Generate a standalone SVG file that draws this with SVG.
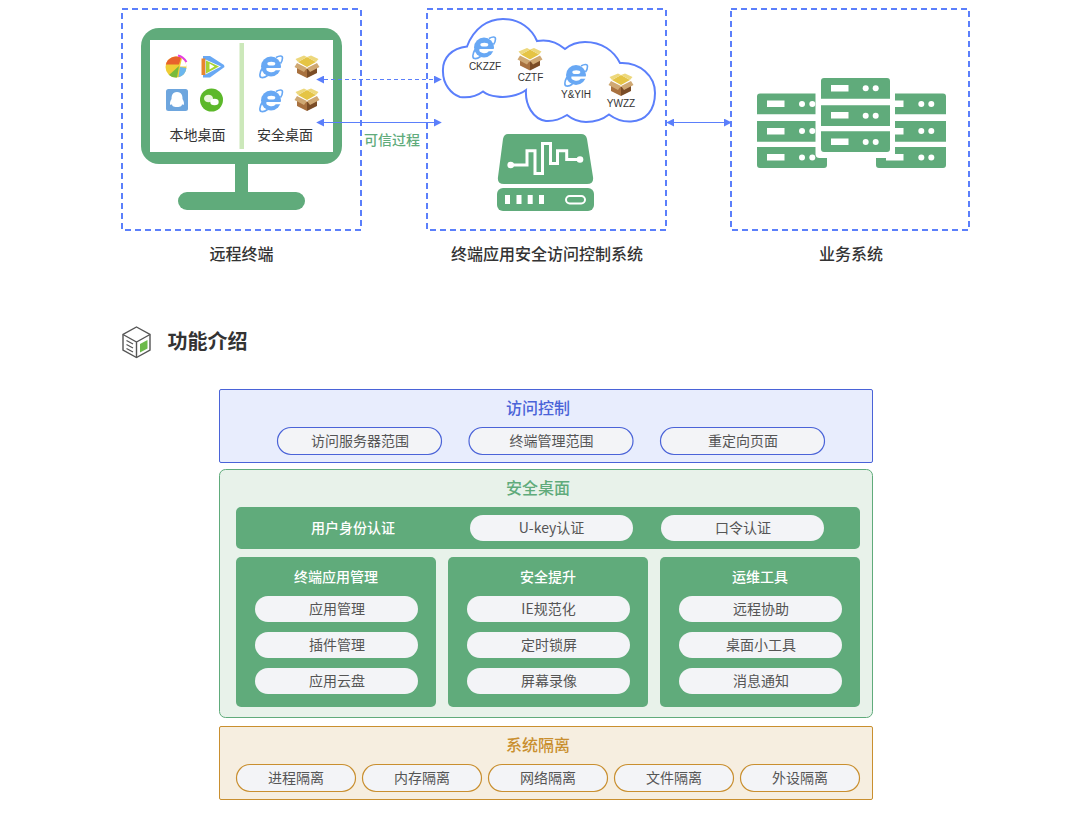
<svg xmlns="http://www.w3.org/2000/svg" xmlns:xlink="http://www.w3.org/1999/xlink" width="1088" height="816" viewBox="0 0 1088 816">
<style>
text{font-family:"Noto Sans CJK SC","Noto Sans",sans-serif;text-anchor:middle}
.dash{fill:none;stroke:#5b7ffb;stroke-width:2;stroke-dasharray:6 4}
.g{fill:#60ab7b}
.w{fill:#fff}
.cap{font-size:16px;font-weight:500;fill:#333}
.lab{font-size:14px;fill:#333}
.en{font-family:"Liberation Sans",Arial,sans-serif;font-size:10px;fill:#333}
.pill{font-size:14px;fill:#555}
.p{fill:#f3f4f7}
.pb{fill:#f3f4f7;stroke:#4a63d8;stroke-width:1.2}
.po{fill:#f3f4f7;stroke:#c98f2f;stroke-width:1.2}
.th{font-size:16px;font-weight:500}
.tw{font-size:14px;font-weight:500;fill:#fff}
.line{stroke:#5b7ffb;stroke-width:1.2;fill:none}
</style>
<defs>
<marker id="a" viewBox="0 0 10 10" refX="9" refY="5" markerWidth="8" markerHeight="8" markerUnits="userSpaceOnUse" orient="auto-start-reverse"><path d="M0 0L10 5L0 10z" fill="#5b7ffb"/></marker>
<g id="ie">
<path d="M5-9C8.500-11 11.500-11 11.500-8.500C11.500-7 11-5 9.500-3M-9 2C-11.500 6.500-12 10.500-9.500 11C-7.500 11.400-5.500 10.500-3.500 9" fill="none" stroke="#68a8f4" stroke-width="1.600"/>
<circle r="10" fill="#68a8f4"/>
<ellipse cx="0.300" cy="-2.800" rx="4" ry="1.900" fill="#fff"/>
<path d="M-4.500 1.500H11V3.800H4.800A5 3.300 0 0 1 -4.500 1.500z" fill="#fff"/>
</g>
<g id="box">
<path d="M-10-3L0 2V11L-10 6z" fill="#a8713f"/>
<path d="M10-3L0 2V11L10 6z" fill="#7a4c26"/>
<path d="M-9-5L0-10L9-5L0 0z" fill="#e5c445"/>
<path d="M-9-5L-11.500-8L-3-11.500L0-10zM9-5L11.500-8L4-11.500L0-10z" fill="#edd87c"/>
<path d="M-10-4L0 1L-3 5L-12.500 0zM10-4L0 1L3 5L12.500 0z" fill="#cfa873"/>
</g>
</defs>

<g id="terminal">
<rect class="dash" x="122" y="9" width="239" height="221"/>
<rect class="g" x="141" y="28" width="201" height="136" rx="18"/>
<rect class="w" x="150" y="40" width="183" height="112"/>
<rect x="239.500" y="43" width="4.500" height="106" fill="#cce8ba"/>
<rect class="g" x="235" y="163" width="13" height="30"/>
<rect class="g" x="178" y="192" width="127" height="18" rx="9"/>
<g id="app-ball">
<circle cx="176" cy="67" r="10.500" fill="#efcd35"/>
<path d="M179 64.500L165.800 64.500A10.500 10.500 0 0 1 181 57.800z" fill="#e8622c"/>
<path d="M179 66L169 75A10.500 10.500 0 0 0 177 77.500z" fill="#78bb3a"/>
<path d="M180 67L178.500 77.200A10.500 10.500 0 0 0 186.400 68z" fill="#6ab6ee"/>
<path d="M180 66.500L186.400 66.500A10.500 10.500 0 0 0 182 58.500z" fill="#fff"/>
<path d="M178 55.500Q183 56.500 186.500 62" stroke="#e43fe0" stroke-width="2" fill="none"/>
</g>
<g id="app-video">
<path d="M203 56H210L224 65L224.500 67L210 77.500H203z" fill="#68a8f4"/>
<path d="M201.500 58.500H205.500V75H201.500z" fill="#e8852c"/>
<path d="M205.500 59.500L221 66.500L205.500 74.500z" fill="#fff"/>
<path d="M206 60.500L219 66.500L206 73.500z" fill="#a5d433"/>
<path d="M209.500 63.500L214.500 66.500L209.500 69.500z" fill="#fff"/>
</g>
<g id="app-qq">
<rect x="166" y="89" width="22" height="22" rx="2.500" fill="#6ea6de"/>
<path d="M177 92C172 92 171.500 96 171.500 99C170 101 169.500 104 170.500 105C171.500 105 172 104 172 104C172 106 173 107 177 107C181 107 182 106 182 104C182 104 182.500 105 183.500 105C184.500 104 184 101 182.500 99C182.500 96 182 92 177 92z" fill="#fff"/>
</g>
<g id="app-wechat">
<circle cx="211.500" cy="100" r="11.500" fill="#5cb82a"/>
<ellipse cx="208.500" cy="98.500" rx="4.500" ry="3.800" fill="#e9f6dd"/>
<ellipse cx="214.500" cy="102" rx="4.200" ry="3.300" fill="#fff"/>
</g>
<use xlink:href="#ie" href="#ie" x="271" y="66.500"/>
<use xlink:href="#box" href="#box" x="307" y="67"/>
<use xlink:href="#ie" href="#ie" x="271" y="100.500"/>
<use xlink:href="#box" href="#box" x="307" y="100"/>
<text class="lab" x="197.500" y="140">本地桌面</text>
<text class="lab" x="285" y="140">安全桌面</text>
<text class="cap" x="241.500" y="260">远程终端</text>
</g>

<g id="access-system">
<rect class="dash" x="427" y="9" width="239" height="221"/>
<path d="M443 72C442 58 452 48 467 46.500C474 28 488 19 503 19C520 19 532 29 537 41C548 39 557 42 565 49C571 44 577 42 585 42C602 42 614 51 620 63C640 62 655 76 655 93C655 110 646 121 631 121.500C622 122 615 119 609 114.500C602 120 594 122 586 122C578 122 572 119 567 115C559 120 553 121.500 546 121C533 119 525 105 526 90C518 96 505 98 497 96.500C491 96 486 94 483 91.500C477 96 468 98 460 97C451 94 443 84 443 72z" fill="#fff" stroke="#5b7ffb" stroke-width="2"/>
<use xlink:href="#ie" href="#ie" x="484" y="47.500"/>
<use xlink:href="#box" href="#box" x="530" y="59.500"/>
<use xlink:href="#ie" href="#ie" x="576" y="75"/>
<use xlink:href="#box" href="#box" x="621" y="85"/>
<text class="en" x="485" y="70">CKZZF</text>
<text class="en" x="530.500" y="81">CZTF</text>
<text class="en" x="576" y="98">Y&amp;YIH</text>
<text class="en" x="621" y="107">YWZZ</text>
<path class="g" d="M508 134H581Q586 134 587 139L593 177Q594 184 587 184H504Q497 184 498 177L503 139Q504 134 508 134z"/>
<path d="M510.700 165H527V150.700H535V173.500H542.500V143.500H550.500V163.500H557.500V150.700H566.700V159.500H580" fill="none" stroke="#fff" stroke-width="3"/>
<circle class="w" cx="510.700" cy="165" r="3.300"/>
<circle class="w" cx="580" cy="159.500" r="3.300"/>
<rect class="g" x="497" y="188" width="97" height="23" rx="6"/>
<rect class="w" x="505" y="195" width="5" height="9"/>
<rect class="w" x="516.500" y="195" width="5" height="9"/>
<rect class="w" x="527.700" y="195" width="5" height="9"/>
<rect class="w" x="539" y="195" width="5" height="9"/>
<rect x="566" y="196" width="19" height="7.500" rx="3.700" fill="none" stroke="#fff" stroke-width="2"/>
<text class="cap" x="547" y="260">终端应用安全访问控制系统</text>
</g>

<g id="business-system">
<rect class="dash" x="731" y="9" width="238" height="221"/>
<path class="g" d="M760 93.500H827V114.300H757V96.500Q757 93.500 760 93.500zM757 121H827V141.700H757zM757 147H827V165Q827 168 824 168H760Q757 168 757 165z"/>
<path class="g" d="M876 93.500H943Q946 93.500 946 96.500V114.300H876zM876 121H946V141.700H876zM876 147H946V165Q946 168 943 168H879Q876 168 876 165z"/>
<g class="w">
<rect x="767" y="100.500" width="17.500" height="6.500"/><rect x="767" y="128" width="17.500" height="6.500"/><rect x="767" y="154" width="17.500" height="6.500"/>
<circle cx="802" cy="104" r="3"/><circle cx="812.300" cy="104" r="3"/><circle cx="802" cy="131" r="3"/><circle cx="812.300" cy="131" r="3"/><circle cx="802" cy="157.500" r="3"/><circle cx="812.300" cy="157.500" r="3"/>
<rect x="886" y="100.500" width="17.500" height="6.500"/><rect x="886" y="128" width="17.500" height="6.500"/><rect x="886" y="154" width="17.500" height="6.500"/>
<circle cx="921.300" cy="104" r="3"/><circle cx="931.300" cy="104" r="3"/><circle cx="921.300" cy="131" r="3"/><circle cx="931.300" cy="131" r="3"/><circle cx="921.300" cy="157.500" r="3"/><circle cx="931.300" cy="157.500" r="3"/>
<rect x="815.500" y="72" width="79.500" height="86" rx="4"/>
</g>
<path class="g" d="M824 78H887Q890 78 890 81V98.700H821V81Q821 78 824 78zM821 105.300H890V126H821zM821 131.300H890V149Q890 152 887 152H824Q821 152 821 149z"/>
<g class="w">
<rect x="831" y="85" width="17.500" height="6.500"/><rect x="831" y="112" width="17.500" height="6.500"/><rect x="831" y="138.500" width="17.500" height="6.500"/>
<circle cx="865.700" cy="88.300" r="3"/><circle cx="875.700" cy="88.300" r="3"/><circle cx="865.700" cy="115.700" r="3"/><circle cx="875.700" cy="115.700" r="3"/><circle cx="865.700" cy="142" r="3"/><circle cx="875.700" cy="142" r="3"/>
</g>
<text class="cap" x="851" y="260">业务系统</text>
</g>

<g id="connectors">
<path class="line" stroke-dasharray="4 3" d="M317 79.500H441" marker-start="url(#a)" marker-end="url(#a)"/>
<path class="line" d="M317 122.500H441" marker-start="url(#a)" marker-end="url(#a)"/>
<path class="line" d="M667 122.500H731" marker-start="url(#a)" marker-end="url(#a)"/>
<text x="392" y="145" font-size="14" font-weight="500" fill="#60ab7b">可信过程</text>
</g>

<g id="section-title">
<path d="M136.500 327L150 334.500V350L136.500 357.500L123 350V334.500z" fill="#fff" stroke="#555" stroke-width="1.400"/>
<path d="M123 334.500L136.500 342L150 334.500M136.500 342V357.500" fill="none" stroke="#555" stroke-width="1.400"/>
<path d="M140 344L147.500 340V348.500L140 352.500z" fill="#6cba4a"/>
<path d="M126.500 340.500L133 344M126.500 344.500L133 348M126.500 348.500L133 352" stroke="#555" stroke-width="1.200" fill="none"/>
<text x="207.500" y="349" font-size="20" font-weight="700" fill="#333">功能介绍</text>
</g>

<g id="access-control">
<rect x="219.500" y="389.500" width="653" height="73" rx="1.500" fill="#e8edfd" stroke="#4a63d8"/>
<text class="th" x="538" y="414" fill="#4a63d8">访问控制</text>
<rect class="pb" x="277.500" y="427.500" width="164" height="27" rx="13.500"/><text class="pill" x="360" y="446">访问服务器范围</text>
<rect class="pb" x="469" y="427.500" width="164" height="27" rx="13.500"/><text class="pill" x="551.500" y="446">终端管理范围</text>
<rect class="pb" x="660.500" y="427.500" width="164" height="27" rx="13.500"/><text class="pill" x="743" y="446">重定向页面</text>
</g>

<g id="secure-desktop">
<rect x="219.500" y="469.500" width="653" height="248" rx="6" fill="#e8f2ea" stroke="#60ab7b"/>
<text class="th" x="538" y="494" fill="#60ab7b">安全桌面</text>
<rect class="g" x="236" y="507" width="624" height="42" rx="5"/>
<text class="tw" x="353" y="533">用户身份认证</text>
<rect class="p" x="470" y="515" width="163" height="26" rx="13"/><text class="pill" x="551.500" y="533">U-key认证</text>
<rect class="p" x="661" y="515" width="163" height="26" rx="13"/><text class="pill" x="743" y="533">口令认证</text>
<g id="app-management">
<rect class="g" x="236" y="557" width="200" height="150" rx="5"/>
<text class="tw" x="336" y="582">终端应用管理</text>
<rect class="p" x="255" y="596" width="163" height="26" rx="13"/><text class="pill" x="337" y="614">应用管理</text>
<rect class="p" x="255" y="632" width="163" height="26" rx="13"/><text class="pill" x="337" y="650">插件管理</text>
<rect class="p" x="255" y="668" width="163" height="26" rx="13"/><text class="pill" x="337" y="686">应用云盘</text>
</g>
<g id="security-upgrade">
<rect class="g" x="448" y="557" width="200" height="150" rx="5"/>
<text class="tw" x="548" y="582">安全提升</text>
<rect class="p" x="467" y="596" width="163" height="26" rx="13"/><text class="pill" x="548.500" y="614">IE规范化</text>
<rect class="p" x="467" y="632" width="163" height="26" rx="13"/><text class="pill" x="549" y="650">定时锁屏</text>
<rect class="p" x="467" y="668" width="163" height="26" rx="13"/><text class="pill" x="549" y="686">屏幕录像</text>
</g>
<g id="ops-tools">
<rect class="g" x="660" y="557" width="200" height="150" rx="5"/>
<text class="tw" x="760" y="582">运维工具</text>
<rect class="p" x="679" y="596" width="163" height="26" rx="13"/><text class="pill" x="761" y="614">远程协助</text>
<rect class="p" x="679" y="632" width="163" height="26" rx="13"/><text class="pill" x="761" y="650">桌面小工具</text>
<rect class="p" x="679" y="668" width="163" height="26" rx="13"/><text class="pill" x="761" y="686">消息通知</text>
</g>
</g>

<g id="system-isolation">
<rect x="219.500" y="726.500" width="653" height="73" rx="1.500" fill="#f6eee0" stroke="#c98f2f"/>
<text class="th" x="538" y="751" fill="#c98f2f">系统隔离</text>
<rect class="po" x="236.500" y="764.500" width="119" height="27" rx="13.500"/><text class="pill" x="296" y="783">进程隔离</text>
<rect class="po" x="362.500" y="764.500" width="119" height="27" rx="13.500"/><text class="pill" x="422" y="783">内存隔离</text>
<rect class="po" x="488.500" y="764.500" width="119" height="27" rx="13.500"/><text class="pill" x="548" y="783">网络隔离</text>
<rect class="po" x="614.500" y="764.500" width="119" height="27" rx="13.500"/><text class="pill" x="674" y="783">文件隔离</text>
<rect class="po" x="740.500" y="764.500" width="119" height="27" rx="13.500"/><text class="pill" x="800" y="783">外设隔离</text>
</g>
</svg>
